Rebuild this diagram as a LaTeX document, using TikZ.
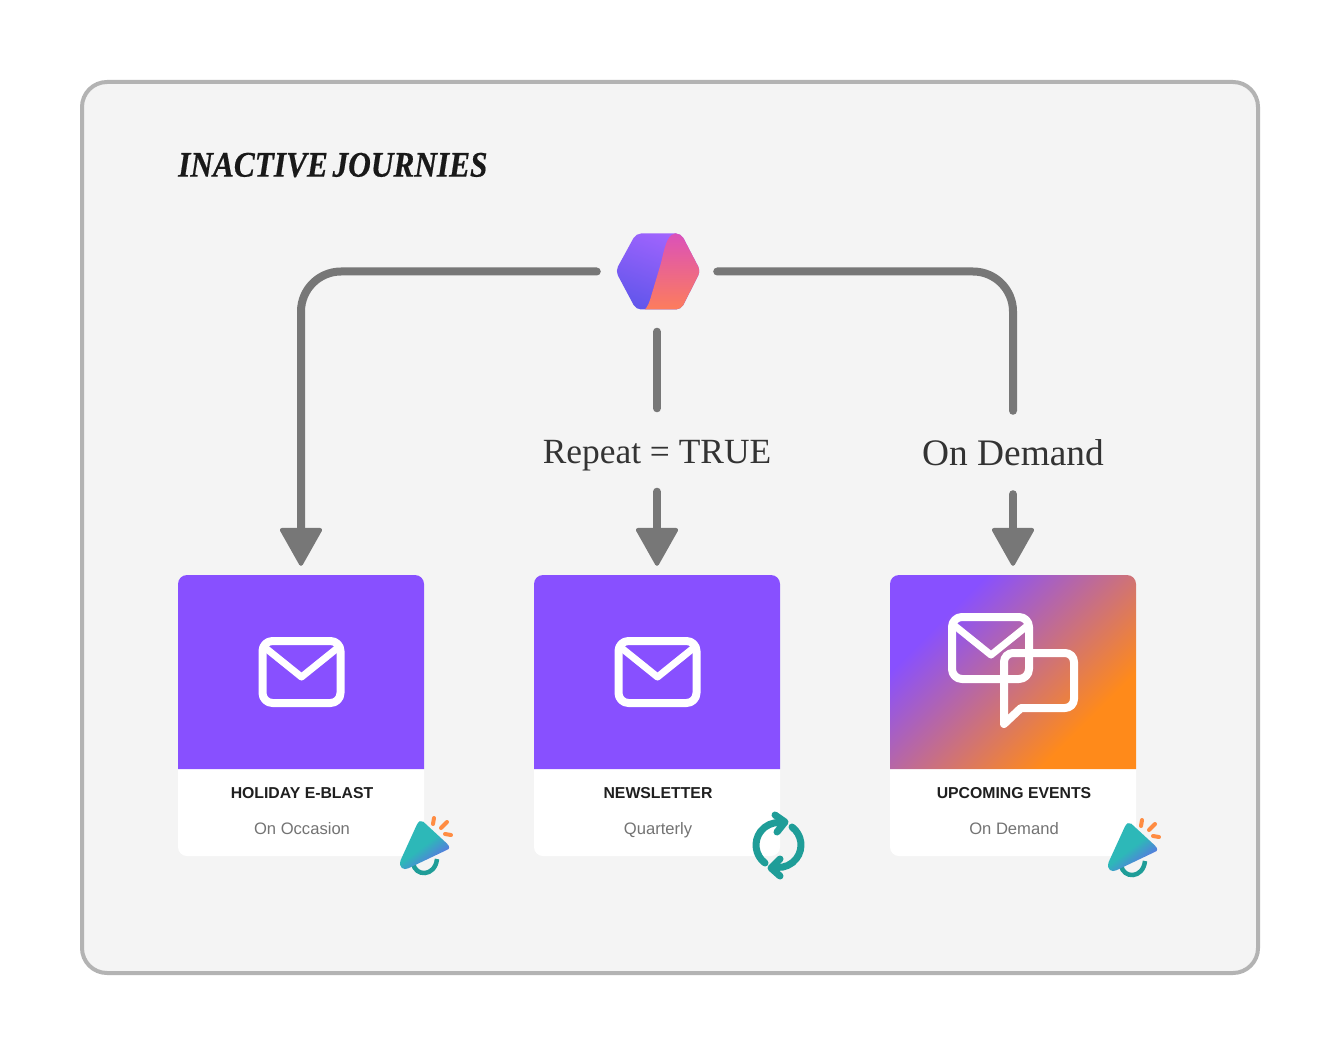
\documentclass[tikz,border=0pt]{standalone}
\usepackage{fontspec}
\setmainfont{Liberation Serif}
\newfontfamily\labelfont{Liberation Sans}
\newfontfamily\headingfont[FakeStretch=0.87,WordSpace=0.6,FakeBold=0.5]{Liberation Serif}
\usetikzlibrary{arrows.meta,positioning,shapes}

\definecolor{panelgray}{HTML}{F4F4F4}
\definecolor{panelline}{HTML}{B3B3B3}
\definecolor{flowgray}{HTML}{777777}
\definecolor{headpurple}{HTML}{8850FF}
\definecolor{headorange}{HTML}{FF8A1A}
\definecolor{hornteal}{HTML}{2DB8B8}
\definecolor{hornblue}{HTML}{5F6CE8}
\definecolor{ringteal}{HTML}{1F9D98}
\definecolor{sparkorange}{HTML}{FF8C42}
\definecolor{hublilac}{HTML}{A565FF}
\definecolor{hubblue}{HTML}{5E55EA}
\definecolor{hubpink}{HTML}{D94EC0}
\definecolor{hubrose}{HTML}{F25596}
\definecolor{hubcoral}{HTML}{FF8055}
\pgfdeclarehorizontalshading{eventgrad}{100bp}{color(0bp)=(headpurple); color(30bp)=(headpurple); color(70bp)=(headorange); color(100bp)=(headorange)}
\pgfdeclarehorizontalshading{horngrad}{100bp}{color(0bp)=(hornteal); color(50bp)=(hornteal); color(72bp)=(hornblue); color(100bp)=(hornblue)}

\tikzset{
  flow/.style={draw=flowgray,line width=8pt,line cap=round,rounded corners=40pt},
  flowtip/.style={flow,-{Triangle[length=40pt,width=44pt,line width=4pt,round]},shorten >=9pt},
  cardbox/.style={fill=white,rounded corners=9pt,minimum width=246pt,minimum height=281pt,inner sep=0pt},
  cardtitle/.style={font=\labelfont\bfseries\fontsize{15.8}{18}\selectfont,text=black!88,text height=14pt,text depth=3pt},
  cardsub/.style={font=\labelfont\fontsize{16.6}{18}\selectfont,text=black!55,text height=15pt,text depth=3pt},
  flowlabel/.style={text=black!80,inner sep=0pt,text height=32pt,text depth=6pt,minimum height=83pt},
  iconline/.style={draw=white,line width=8pt,line join=round,line cap=round},
  ringline/.style={draw=ringteal,line width=7pt,line cap=round,line join=round},
  mailicon/.pic={
    \draw[iconline,rounded corners=10pt] (-39,-31) rectangle (39,31);
    \draw[iconline,line width=7pt] (-36,-24) -- (0,5) -- (36,-24);
  },
  hornicon/.pic={
    \draw[ringteal,line width=4.5pt] (13,42) .. controls (15,56) and (35,56) .. (37,38);
    \shade[shading=horngrad,shading angle=-53]
      (16.7,4) .. controls (18.5,0) and (21,-1) .. (23.3,0.7) -- (46.7,22.3) .. controls (50,25.5) and (50,28) .. (46.7,29) -- (8.3,47.3) .. controls (4,49.5) and (-2,47) .. (0.7,39) -- cycle;
    \draw[sparkorange,line width=4pt,line cap=round] (34,-3) -- (33,3) (47,1) -- (41,7) (45,13) -- (51,14);
  }
}

\begin{document}
\begin{tikzpicture}[x=1pt,y=-1pt]
\useasboundingbox (0,0) rectangle (1340,1056);
\draw[panelline,fill=panelgray,line width=4pt,rounded corners=25pt] (82,82) rectangle (1258,973);
\node[anchor=west,inner sep=0pt,font=\headingfont\bfseries\itshape\fontsize{36}{40}\selectfont,text=black!90] (heading) at (178,165) {INACTIVE JOURNIES};

% hub mark
\node[minimum width=120pt,minimum height=120pt,inner sep=0pt] (hub) at (657,271.5) {};
\begin{scope}
\clip[rounded corners=5pt] (615.5,271) -- (636,233.5) -- (681,233.5) -- (700.5,271) -- (681,309.5) -- (636,309.5) -- cycle;
\shade[left color=hublilac,right color=hubblue,shading angle=-20] (610,228) rectangle (706,315);
\shade[top color=hubpink,middle color=hubrose,bottom color=hubcoral]
  (684,228) -- (674,234) .. controls (667,235) and (664,250) .. (661,263) -- (650,300) .. controls (648,306) and (646,309) .. (640,315) -- (706,315) -- (706,228) -- cycle;
\end{scope}

% cards
\foreach \n/\cx/\head/\sub in {1/301/HOLIDAY E-BLAST/On Occasion,2/657/NEWSLETTER/Quarterly,3/1013/UPCOMING EVENTS/On Demand}{
  \node[cardbox] (card\n) at (\cx,715.5) {};
  \node[cardtitle] (head\n) at (\cx+1,793) {\head};
  \node[cardsub] (sub\n) at (\cx+1,828) {\sub};
}
\fill[headpurple] (178,769) [rounded corners=9pt] -- (178,575) -- (424,575) [sharp corners] -- (424,769) -- cycle;
\fill[headpurple] (534,769) [rounded corners=9pt] -- (534,575) -- (780,575) [sharp corners] -- (780,769) -- cycle;
\shade[shading=eventgrad,shading angle=-45] (890,769) [rounded corners=9pt] -- (890,575) -- (1136,575) [sharp corners] -- (1136,769) -- cycle;

\pic at (301.5,672) {mailicon};
\pic at (657.5,672) {mailicon};

% chat icon
\draw[iconline,rounded corners=10pt] (952,617) rectangle (1029,679);
\draw[iconline,line width=7pt] (955,626) -- (991,655) -- (1027,626);
\draw[iconline,rounded corners=9pt] (1004,690) -- (1004,653) -- (1074,653) -- (1074,708) [sharp corners] -- (1021,708) -- (1004,724) -- cycle;

\pic at (400,821) {hornicon};
\pic at (1108,823) {hornicon};

% refresh icon
\draw[ringline] (765,863) arc[start angle=233,end angle=86,radius=22.5pt];
\draw[ringline] (775,815) -- (785,822) -- (777,832);
\draw[ringline] (792,827) arc[start angle=53,end angle=-94,radius=22.5pt];
\draw[ringline] (780,859) -- (771,868) -- (780,876);

% connectors
\node[flowlabel,font=\fontsize{35.4}{40}\selectfont] (repeat) at (657,450) {Repeat = TRUE};
\node[flowlabel,font=\fontsize{37.4}{40}\selectfont] (demand) at (1013,452.5) {On Demand};
\draw[flowtip] (hub.west) -| (card1.north);
\draw[flow] (hub.south) -- (repeat.north);
\draw[flowtip] (repeat.south) -- (card2.north);
\draw[flow] (hub.east) -| (demand.north);
\draw[flowtip] (demand.south) -- (card3.north);
\end{tikzpicture}
\end{document}
